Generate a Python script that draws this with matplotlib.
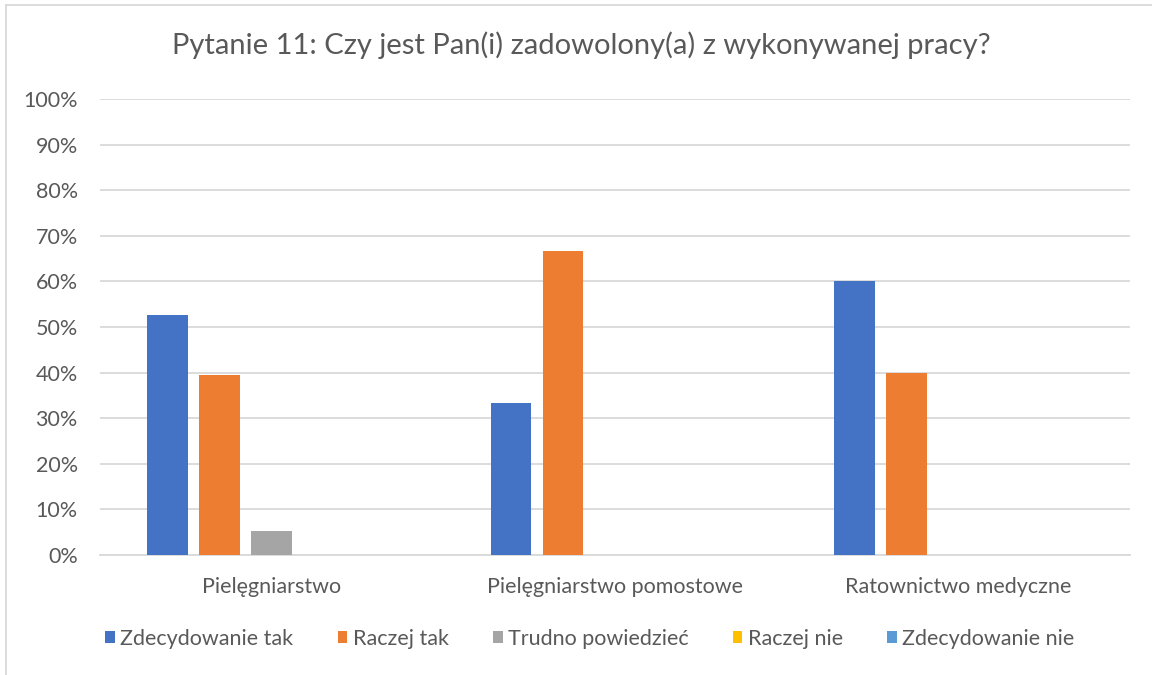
import matplotlib.pyplot as plt
import numpy as np

plt.rcParams['font.family'] = ['Lato', 'DejaVu Sans']

categories = ['Pielęgniarstwo', 'Pielęgniarstwo pomostowe', 'Ratownictwo medyczne']
series_names = ['Zdecydowanie tak', 'Raczej tak', 'Trudno powiedzieć', 'Raczej nie', 'Zdecydowanie nie']
values = [
    [52.6, 33.3, 60.0],   # Zdecydowanie tak
    [39.5, 66.7, 40.0],   # Raczej tak
    [5.3, 0.0, 0.0],      # Trudno powiedzieć
    [0.0, 0.0, 0.0],      # Raczej nie
    [0.0, 0.0, 0.0],      # Zdecydowanie nie
]
colors = ['#4472C4', '#ED7D31', '#A5A5A5', '#FFC000', '#5B9BD5']
txt = '#595959'

fig = plt.figure(figsize=(11.52, 6.75), dpi=100)
ax = fig.add_axes([100/1152, 1 - 555/675, 1030/1152, 456/675])

x = np.arange(len(categories))
step = 0.1515
width = 0.119
for i, (name, vals) in enumerate(zip(series_names, values)):
    ax.bar(x + (i - 2) * step, vals, width, color=colors[i], label=name, zorder=3)

ax.set_xlim(-0.5, 2.5)
ax.set_ylim(0, 100)
ax.set_yticks(np.arange(0, 101, 10))
ax.set_yticklabels([f'{v}%' for v in range(0, 101, 10)])
ax.set_xticks(x)
ax.set_xticklabels(categories)
ax.grid(axis='y', color='#D9D9D9', linewidth=1.3, zorder=0)
for s in ['top', 'right', 'left']:
    ax.spines[s].set_visible(False)
ax.spines['bottom'].set_color('#D9D9D9')
ax.spines['bottom'].set_linewidth(1.3)
ax.tick_params(axis='both', length=0, labelsize=15.5, colors=txt)
ax.tick_params(axis='y', pad=16)
ax.tick_params(axis='x', pad=16)

fig.text(0.505, 1 - 45/675, 'Pytanie 11: Czy jest Pan(i) zadowolony(a) z wykonywanej pracy?',
         ha='center', va='center', fontsize=21, color=txt)

leg = fig.legend(loc='center', bbox_to_anchor=(0.512, 1 - 639/675), ncol=5, frameon=False,
                 fontsize=15.5, handlelength=0.45, handleheight=0.5, handletextpad=0.25,
                 columnspacing=2.05)
for t in leg.get_texts():
    t.set_color(txt)

# chart border (left and top visible)
fig.add_artist(plt.Line2D([6/1152, 6/1152], [0, 1 - 5/675], color='#D9D9D9', lw=1.3))
fig.add_artist(plt.Line2D([6/1152, 1], [1 - 5/675, 1 - 5/675], color='#D9D9D9', lw=1.3))

fig.savefig('out.png', dpi=100)
